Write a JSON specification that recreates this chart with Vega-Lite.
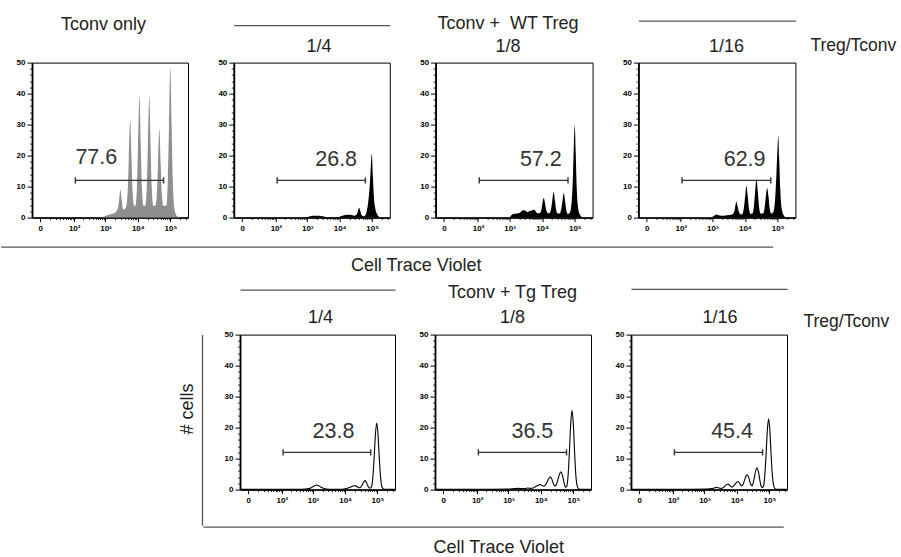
{
"$schema": "https://vega.github.io/schema/vega-lite/v6.json",
"padding": {"left": 0, "top": 13.6, "right": 0, "bottom": 0},
"config": {
 "font": "Liberation Sans",
 "view": {"stroke": "#000", "strokeWidth": 1},
 "axis": {"grid": false, "labelFont": "Liberation Sans", "labelFontWeight": "bold", "labelFontSize": 8, "labelColor": "#000", "tickColor": "#000", "domainColor": "#000", "titleFont": "Liberation Sans", "titleFontWeight": "normal", "titleFontSize": 18, "titleColor": "#222", "labelOverlap": false, "labelFlush": false}
},
"datasets": {
 "gates": [
  {"sample": "Tconv only", "lo": 110, "hi": 62000, "pct": 77.6},
  {"sample": "WT 1/4", "lo": 110, "hi": 62000, "pct": 26.8},
  {"sample": "WT 1/8", "lo": 110, "hi": 62000, "pct": 57.2},
  {"sample": "WT 1/16", "lo": 110, "hi": 62000, "pct": 62.9},
  {"sample": "Tg 1/4", "lo": 110, "hi": 62000, "pct": 23.8},
  {"sample": "Tg 1/8", "lo": 110, "hi": 62000, "pct": 36.5},
  {"sample": "Tg 1/16", "lo": 110, "hi": 62000, "pct": 45.4}
 ],
 "hist": [
  {"sample":"Tconv only","ctv":700,"cells":0},{"sample":"Tconv only","ctv":1000,"cells":0.5},{"sample":"Tconv only","ctv":1500,"cells":1.2},{"sample":"Tconv only","ctv":2000,"cells":1.6},{"sample":"Tconv only","ctv":2175,"cells":2},{"sample":"Tconv only","ctv":2436,"cells":3},{"sample":"Tconv only","ctv":2639,"cells":5.6},{"sample":"Tconv only","ctv":2900,"cells":9},{"sample":"Tconv only","ctv":3190,"cells":5.6},{"sample":"Tconv only","ctv":3451,"cells":3},{"sample":"Tconv only","ctv":3857,"cells":2.6},{"sample":"Tconv only","ctv":4350,"cells":3.5},{"sample":"Tconv only","ctv":4872,"cells":8.5},{"sample":"Tconv only","ctv":5278,"cells":19},{"sample":"Tconv only","ctv":5800,"cells":31.6},{"sample":"Tconv only","ctv":6380,"cells":19},{"sample":"Tconv only","ctv":6902,"cells":8.5},{"sample":"Tconv only","ctv":7714,"cells":3.8},{"sample":"Tconv only","ctv":8400,"cells":3.8},{"sample":"Tconv only","ctv":9408,"cells":10},{"sample":"Tconv only","ctv":10192,"cells":23.5},{"sample":"Tconv only","ctv":11200,"cells":39.2},{"sample":"Tconv only","ctv":12320,"cells":23.5},{"sample":"Tconv only","ctv":13328,"cells":10},{"sample":"Tconv only","ctv":14896,"cells":3.8},{"sample":"Tconv only","ctv":16875,"cells":3.8},{"sample":"Tconv only","ctv":18900,"cells":10},{"sample":"Tconv only","ctv":20475,"cells":23.4},{"sample":"Tconv only","ctv":22500,"cells":39},{"sample":"Tconv only","ctv":24750,"cells":23.4},{"sample":"Tconv only","ctv":26775,"cells":10},{"sample":"Tconv only","ctv":29925,"cells":3.8},{"sample":"Tconv only","ctv":34500,"cells":3.8},{"sample":"Tconv only","ctv":38640,"cells":7.8},{"sample":"Tconv only","ctv":41860,"cells":17.2},{"sample":"Tconv only","ctv":46000,"cells":28.7},{"sample":"Tconv only","ctv":50600,"cells":17.2},{"sample":"Tconv only","ctv":54740,"cells":7.8},{"sample":"Tconv only","ctv":61180,"cells":3.8},{"sample":"Tconv only","ctv":75000,"cells":3.8},{"sample":"Tconv only","ctv":84000,"cells":12.5},{"sample":"Tconv only","ctv":91000,"cells":29},{"sample":"Tconv only","ctv":100000,"cells":48.3},{"sample":"Tconv only","ctv":110000,"cells":29},{"sample":"Tconv only","ctv":119000,"cells":12.5},{"sample":"Tconv only","ctv":133000,"cells":3},{"sample":"Tconv only","ctv":160000,"cells":0.5},{"sample":"Tconv only","ctv":200000,"cells":0},
  {"sample":"WT 1/4","ctv":800,"cells":0},{"sample":"WT 1/4","ctv":1100,"cells":0.3},{"sample":"WT 1/4","ctv":1500,"cells":0.6},{"sample":"WT 1/4","ctv":2000,"cells":0.6},{"sample":"WT 1/4","ctv":2600,"cells":0.5},{"sample":"WT 1/4","ctv":3500,"cells":0.3},{"sample":"WT 1/4","ctv":5000,"cells":0.1},{"sample":"WT 1/4","ctv":7000,"cells":0.1},{"sample":"WT 1/4","ctv":10000,"cells":0.3},{"sample":"WT 1/4","ctv":13000,"cells":0.7},{"sample":"WT 1/4","ctv":17000,"cells":0.9},{"sample":"WT 1/4","ctv":22000,"cells":0.9},{"sample":"WT 1/4","ctv":28000,"cells":0.6},{"sample":"WT 1/4","ctv":32000,"cells":0.8},{"sample":"WT 1/4","ctv":35000,"cells":1.5},{"sample":"WT 1/4","ctv":37500,"cells":2.6},{"sample":"WT 1/4","ctv":40000,"cells":3.2},{"sample":"WT 1/4","ctv":43000,"cells":2.2},{"sample":"WT 1/4","ctv":47000,"cells":0.9},{"sample":"WT 1/4","ctv":53000,"cells":0.4},{"sample":"WT 1/4","ctv":60000,"cells":0.6},{"sample":"WT 1/4","ctv":68000,"cells":2},{"sample":"WT 1/4","ctv":76000,"cells":5},{"sample":"WT 1/4","ctv":84000,"cells":10},{"sample":"WT 1/4","ctv":90000,"cells":15.5},{"sample":"WT 1/4","ctv":98000,"cells":20.7},{"sample":"WT 1/4","ctv":105000,"cells":14},{"sample":"WT 1/4","ctv":113000,"cells":7},{"sample":"WT 1/4","ctv":125000,"cells":3},{"sample":"WT 1/4","ctv":145000,"cells":1},{"sample":"WT 1/4","ctv":175000,"cells":0},
  {"sample":"WT 1/8","ctv":1000,"cells":0},{"sample":"WT 1/8","ctv":1300,"cells":1.2},{"sample":"WT 1/8","ctv":1700,"cells":1.3},{"sample":"WT 1/8","ctv":2100,"cells":1.6},{"sample":"WT 1/8","ctv":2600,"cells":2.4},{"sample":"WT 1/8","ctv":3000,"cells":2.3},{"sample":"WT 1/8","ctv":3500,"cells":1.8},{"sample":"WT 1/8","ctv":4200,"cells":2.1},{"sample":"WT 1/8","ctv":5000,"cells":2.4},{"sample":"WT 1/8","ctv":5800,"cells":2.5},{"sample":"WT 1/8","ctv":6800,"cells":1.6},{"sample":"WT 1/8","ctv":8000,"cells":1.4},{"sample":"WT 1/8","ctv":8800,"cells":1.6},{"sample":"WT 1/8","ctv":9700,"cells":3},{"sample":"WT 1/8","ctv":10300,"cells":4.8},{"sample":"WT 1/8","ctv":11200,"cells":6.3},{"sample":"WT 1/8","ctv":12200,"cells":4.8},{"sample":"WT 1/8","ctv":13300,"cells":2.5},{"sample":"WT 1/8","ctv":15000,"cells":1.4},{"sample":"WT 1/8","ctv":17000,"cells":1.5},{"sample":"WT 1/8","ctv":19000,"cells":3},{"sample":"WT 1/8","ctv":20500,"cells":5.5},{"sample":"WT 1/8","ctv":22500,"cells":8.3},{"sample":"WT 1/8","ctv":24700,"cells":5.5},{"sample":"WT 1/8","ctv":26700,"cells":2.7},{"sample":"WT 1/8","ctv":30000,"cells":1.3},{"sample":"WT 1/8","ctv":34500,"cells":1.3},{"sample":"WT 1/8","ctv":38600,"cells":2.8},{"sample":"WT 1/8","ctv":41900,"cells":5.2},{"sample":"WT 1/8","ctv":46000,"cells":7.9},{"sample":"WT 1/8","ctv":50600,"cells":5.2},{"sample":"WT 1/8","ctv":54700,"cells":2.5},{"sample":"WT 1/8","ctv":60000,"cells":1.2},{"sample":"WT 1/8","ctv":70000,"cells":1.5},{"sample":"WT 1/8","ctv":80000,"cells":5},{"sample":"WT 1/8","ctv":88000,"cells":14},{"sample":"WT 1/8","ctv":94000,"cells":24},{"sample":"WT 1/8","ctv":100000,"cells":29.8},{"sample":"WT 1/8","ctv":106000,"cells":22},{"sample":"WT 1/8","ctv":114000,"cells":10},{"sample":"WT 1/8","ctv":125000,"cells":3.5},{"sample":"WT 1/8","ctv":145000,"cells":0.8},{"sample":"WT 1/8","ctv":175000,"cells":0},
  {"sample":"WT 1/16","ctv":900,"cells":0},{"sample":"WT 1/16","ctv":1150,"cells":0.6},{"sample":"WT 1/16","ctv":1300,"cells":1},{"sample":"WT 1/16","ctv":1500,"cells":0.8},{"sample":"WT 1/16","ctv":1900,"cells":0.6},{"sample":"WT 1/16","ctv":2500,"cells":0.7},{"sample":"WT 1/16","ctv":3200,"cells":0.8},{"sample":"WT 1/16","ctv":3900,"cells":1},{"sample":"WT 1/16","ctv":4300,"cells":1.2},{"sample":"WT 1/16","ctv":4800,"cells":2.2},{"sample":"WT 1/16","ctv":5100,"cells":3.8},{"sample":"WT 1/16","ctv":5500,"cells":5.1},{"sample":"WT 1/16","ctv":6000,"cells":3.6},{"sample":"WT 1/16","ctv":6600,"cells":1.8},{"sample":"WT 1/16","ctv":7500,"cells":1},{"sample":"WT 1/16","ctv":8400,"cells":1.2},{"sample":"WT 1/16","ctv":9400,"cells":3.5},{"sample":"WT 1/16","ctv":10200,"cells":7},{"sample":"WT 1/16","ctv":11100,"cells":10.2},{"sample":"WT 1/16","ctv":12200,"cells":7},{"sample":"WT 1/16","ctv":13200,"cells":3.2},{"sample":"WT 1/16","ctv":15000,"cells":1.2},{"sample":"WT 1/16","ctv":17000,"cells":1.3},{"sample":"WT 1/16","ctv":19000,"cells":4},{"sample":"WT 1/16","ctv":20600,"cells":8.5},{"sample":"WT 1/16","ctv":22600,"cells":12.4},{"sample":"WT 1/16","ctv":24800,"cells":8.5},{"sample":"WT 1/16","ctv":26900,"cells":3.8},{"sample":"WT 1/16","ctv":30000,"cells":1.3},{"sample":"WT 1/16","ctv":36000,"cells":1.3},{"sample":"WT 1/16","ctv":40300,"cells":3.3},{"sample":"WT 1/16","ctv":43700,"cells":6.8},{"sample":"WT 1/16","ctv":48000,"cells":9.5},{"sample":"WT 1/16","ctv":52800,"cells":6.8},{"sample":"WT 1/16","ctv":57100,"cells":3},{"sample":"WT 1/16","ctv":64000,"cells":1.3},{"sample":"WT 1/16","ctv":74000,"cells":1.8},{"sample":"WT 1/16","ctv":84000,"cells":6},{"sample":"WT 1/16","ctv":92000,"cells":14},{"sample":"WT 1/16","ctv":98000,"cells":21},{"sample":"WT 1/16","ctv":105000,"cells":26.4},{"sample":"WT 1/16","ctv":112000,"cells":19},{"sample":"WT 1/16","ctv":121000,"cells":9},{"sample":"WT 1/16","ctv":133000,"cells":3},{"sample":"WT 1/16","ctv":155000,"cells":0.7},{"sample":"WT 1/16","ctv":185000,"cells":0},
  {"sample":"Tg 1/4","ctv":-8,"cells":0.1},{"sample":"Tg 1/4","ctv":50,"cells":0.1},{"sample":"Tg 1/4","ctv":300,"cells":0.1},{"sample":"Tg 1/4","ctv":600,"cells":0.2},{"sample":"Tg 1/4","ctv":800,"cells":0.4},{"sample":"Tg 1/4","ctv":950,"cells":0.8},{"sample":"Tg 1/4","ctv":1100,"cells":1.2},{"sample":"Tg 1/4","ctv":1250,"cells":1.5},{"sample":"Tg 1/4","ctv":1450,"cells":1.3},{"sample":"Tg 1/4","ctv":1700,"cells":0.9},{"sample":"Tg 1/4","ctv":2000,"cells":0.5},{"sample":"Tg 1/4","ctv":2600,"cells":0.2},{"sample":"Tg 1/4","ctv":4000,"cells":0.1},{"sample":"Tg 1/4","ctv":7000,"cells":0.1},{"sample":"Tg 1/4","ctv":10000,"cells":0.3},{"sample":"Tg 1/4","ctv":13000,"cells":0.6},{"sample":"Tg 1/4","ctv":16000,"cells":1.0},{"sample":"Tg 1/4","ctv":18500,"cells":1.25},{"sample":"Tg 1/4","ctv":21000,"cells":1.2},{"sample":"Tg 1/4","ctv":24000,"cells":0.9},{"sample":"Tg 1/4","ctv":27000,"cells":0.6},{"sample":"Tg 1/4","ctv":29000,"cells":0.6},{"sample":"Tg 1/4","ctv":33000,"cells":1.3},{"sample":"Tg 1/4","ctv":37000,"cells":2.3},{"sample":"Tg 1/4","ctv":41000,"cells":2.9},{"sample":"Tg 1/4","ctv":45500,"cells":2.3},{"sample":"Tg 1/4","ctv":50000,"cells":1.3},{"sample":"Tg 1/4","ctv":56000,"cells":0.5},{"sample":"Tg 1/4","ctv":61000,"cells":0.5},{"sample":"Tg 1/4","ctv":66000,"cells":1.0},{"sample":"Tg 1/4","ctv":72000,"cells":3.9},{"sample":"Tg 1/4","ctv":79000,"cells":10.1},{"sample":"Tg 1/4","ctv":86600,"cells":17.8},{"sample":"Tg 1/4","ctv":95000,"cells":21.5},{"sample":"Tg 1/4","ctv":104200,"cells":17.8},{"sample":"Tg 1/4","ctv":114200,"cells":10.1},{"sample":"Tg 1/4","ctv":125300,"cells":3.9},{"sample":"Tg 1/4","ctv":137400,"cells":1.0},{"sample":"Tg 1/4","ctv":150000,"cells":0.3},{"sample":"Tg 1/4","ctv":170000,"cells":0.1},{"sample":"Tg 1/4","ctv":340000,"cells":0.1},
  {"sample":"Tg 1/8","ctv":-8,"cells":0.1},{"sample":"Tg 1/8","ctv":300,"cells":0.1},{"sample":"Tg 1/8","ctv":1000,"cells":0.15},{"sample":"Tg 1/8","ctv":1500,"cells":0.3},{"sample":"Tg 1/8","ctv":2000,"cells":0.4},{"sample":"Tg 1/8","ctv":2600,"cells":0.3},{"sample":"Tg 1/8","ctv":3300,"cells":0.3},{"sample":"Tg 1/8","ctv":4000,"cells":0.5},{"sample":"Tg 1/8","ctv":4800,"cells":0.4},{"sample":"Tg 1/8","ctv":5800,"cells":0.5},{"sample":"Tg 1/8","ctv":7000,"cells":1.0},{"sample":"Tg 1/8","ctv":8300,"cells":1.4},{"sample":"Tg 1/8","ctv":9400,"cells":1.6},{"sample":"Tg 1/8","ctv":10500,"cells":1.4},{"sample":"Tg 1/8","ctv":12000,"cells":1.1},{"sample":"Tg 1/8","ctv":13500,"cells":1.3},{"sample":"Tg 1/8","ctv":15500,"cells":2.4},{"sample":"Tg 1/8","ctv":17500,"cells":3.5},{"sample":"Tg 1/8","ctv":19600,"cells":4.1},{"sample":"Tg 1/8","ctv":22000,"cells":3.3},{"sample":"Tg 1/8","ctv":24500,"cells":1.8},{"sample":"Tg 1/8","ctv":27000,"cells":1.2},{"sample":"Tg 1/8","ctv":30000,"cells":1.6},{"sample":"Tg 1/8","ctv":33500,"cells":3.2},{"sample":"Tg 1/8","ctv":37500,"cells":5},{"sample":"Tg 1/8","ctv":41800,"cells":5.7},{"sample":"Tg 1/8","ctv":46500,"cells":4.5},{"sample":"Tg 1/8","ctv":52000,"cells":2.2},{"sample":"Tg 1/8","ctv":57000,"cells":0.8},{"sample":"Tg 1/8","ctv":63100,"cells":1.2},{"sample":"Tg 1/8","ctv":69100,"cells":4.6},{"sample":"Tg 1/8","ctv":75700,"cells":12},{"sample":"Tg 1/8","ctv":83000,"cells":21.2},{"sample":"Tg 1/8","ctv":91000,"cells":25.6},{"sample":"Tg 1/8","ctv":99800,"cells":21.2},{"sample":"Tg 1/8","ctv":109300,"cells":12},{"sample":"Tg 1/8","ctv":119800,"cells":4.6},{"sample":"Tg 1/8","ctv":131300,"cells":1.2},{"sample":"Tg 1/8","ctv":145000,"cells":0.3},{"sample":"Tg 1/8","ctv":170000,"cells":0.1},{"sample":"Tg 1/8","ctv":340000,"cells":0.1},
  {"sample":"Tg 1/16","ctv":-8,"cells":0.1},{"sample":"Tg 1/16","ctv":400,"cells":0.1},{"sample":"Tg 1/16","ctv":1200,"cells":0.15},{"sample":"Tg 1/16","ctv":1700,"cells":0.3},{"sample":"Tg 1/16","ctv":2100,"cells":0.6},{"sample":"Tg 1/16","ctv":2400,"cells":0.7},{"sample":"Tg 1/16","ctv":2800,"cells":0.5},{"sample":"Tg 1/16","ctv":3400,"cells":0.4},{"sample":"Tg 1/16","ctv":4200,"cells":1.0},{"sample":"Tg 1/16","ctv":4800,"cells":1.6},{"sample":"Tg 1/16","ctv":5400,"cells":1.8},{"sample":"Tg 1/16","ctv":6100,"cells":1.3},{"sample":"Tg 1/16","ctv":7000,"cells":0.8},{"sample":"Tg 1/16","ctv":8200,"cells":1.3},{"sample":"Tg 1/16","ctv":9500,"cells":2.2},{"sample":"Tg 1/16","ctv":10900,"cells":2.6},{"sample":"Tg 1/16","ctv":12300,"cells":2.0},{"sample":"Tg 1/16","ctv":13800,"cells":1.2},{"sample":"Tg 1/16","ctv":15500,"cells":1.6},{"sample":"Tg 1/16","ctv":17500,"cells":3.2},{"sample":"Tg 1/16","ctv":19500,"cells":4.5},{"sample":"Tg 1/16","ctv":21000,"cells":4.8},{"sample":"Tg 1/16","ctv":23500,"cells":3.8},{"sample":"Tg 1/16","ctv":26500,"cells":1.8},{"sample":"Tg 1/16","ctv":29500,"cells":1.2},{"sample":"Tg 1/16","ctv":33000,"cells":2.8},{"sample":"Tg 1/16","ctv":37000,"cells":5.5},{"sample":"Tg 1/16","ctv":41800,"cells":7},{"sample":"Tg 1/16","ctv":46500,"cells":5.6},{"sample":"Tg 1/16","ctv":52000,"cells":2.6},{"sample":"Tg 1/16","ctv":57000,"cells":0.9},{"sample":"Tg 1/16","ctv":61000,"cells":0.7},{"sample":"Tg 1/16","ctv":66000,"cells":1.1},{"sample":"Tg 1/16","ctv":72000,"cells":4.1},{"sample":"Tg 1/16","ctv":79000,"cells":10.7},{"sample":"Tg 1/16","ctv":86600,"cells":18.9},{"sample":"Tg 1/16","ctv":95000,"cells":22.8},{"sample":"Tg 1/16","ctv":104200,"cells":18.9},{"sample":"Tg 1/16","ctv":114200,"cells":10.7},{"sample":"Tg 1/16","ctv":125300,"cells":4.1},{"sample":"Tg 1/16","ctv":137400,"cells":1.1},{"sample":"Tg 1/16","ctv":150000,"cells":0.3},{"sample":"Tg 1/16","ctv":170000,"cells":0.1},{"sample":"Tg 1/16","ctv":340000,"cells":0.1}
 ]
},
"vconcat": [
 {"hconcat": [
  {"width": 156, "height": 155, "resolve": {"axis": {"x": "independent", "y": "independent"}}, "layer": [
   {"data": {"name": "hist"}, "transform": [{"filter": {"field": "sample", "equal": "Tconv only"}}], "mark": {"type": "area", "color": "#8f8f8f", "interpolate": "monotone"},
    "encoding": {"x": {"field": "ctv", "type": "quantitative", "scale": {"type": "symlog", "constant": 10, "domain": [-8, 350000], "nice": false, "zero": false}, "axis": {"orient": "bottom", "title": null, "values": [0,100,1000,10000,100000], "labelExpr": "datum.value == 0 ? '0' : datum.value == 100 ? '10²' : datum.value == 1000 ? '10³' : datum.value == 10000 ? '10⁴' : '10⁵'", "tickSize": 4, "labelPadding": 3, "domainWidth": 1.5}},
     "y": {"field": "cells", "type": "quantitative", "scale": {"domain": [0, 50], "nice": false}, "axis": {"orient": "left", "title": null, "values": [0,10,20,30,40,50], "tickSize": 5, "labelPadding": 2, "domainWidth": 1.8}}}},
   {"data": {"name": "gates"}, "transform": [{"filter": {"field": "sample", "equal": "Tconv only"}}], "mark": {"type": "rule", "color": "#333", "strokeWidth": 1.4},
    "encoding": {"x": {"field": "lo", "type": "quantitative", "axis": {"orient": "bottom", "title": null, "values": [10,20,30,40,50,60,70,80,90,200,300,400,500,600,700,800,900,2000,3000,4000,5000,6000,7000,8000,9000,20000,30000,40000,50000,60000,70000,80000,90000,200000,300000], "labels": false, "domain": false, "tickSize": 2, "tickWidth": 0.8}}, "x2": {"field": "hi"},
     "y": {"datum": 12, "type": "quantitative", "axis": {"orient": "left", "title": null, "values": [2,4,6,8,12,14,16,18,22,24,26,28,32,34,36,38,42,44,46,48], "labels": false, "domain": false, "tickSize": 2.5, "tickWidth": 0.8}}}},
   {"data": {"name": "gates"}, "transform": [{"filter": {"field": "sample", "equal": "Tconv only"}}], "mark": {"type": "rule", "color": "#333", "strokeWidth": 1.4},
    "encoding": {"x": {"field": "lo", "type": "quantitative", "axis": {"orient": "top", "domain": false, "ticks": false, "labels": false, "title": "Tconv only", "titleX": 71, "titleY": -33, "titleAlign": "center", "titleBaseline": "alphabetic", "titleAngle": 0}}, "y": {"datum": 11, "type": "quantitative", "axis": null}, "y2": {"datum": 13}}},
   {"data": {"name": "gates"}, "transform": [{"filter": {"field": "sample", "equal": "Tconv only"}}], "mark": {"type": "rule", "color": "#333", "strokeWidth": 1.4},
    "encoding": {"x": {"field": "hi", "type": "quantitative", "axis": null}, "y": {"datum": 11, "type": "quantitative", "axis": null}, "y2": {"datum": 13}}},
   {"data": {"name": "gates"}, "transform": [{"filter": {"field": "sample", "equal": "Tconv only"}}], "mark": {"type": "text", "align": "left", "baseline": "alphabetic", "dx": 0, "dy": -16, "fontSize": 21.5, "color": "#333"},
    "encoding": {"x": {"field": "lo", "type": "quantitative", "axis": null}, "y": {"datum": 12, "type": "quantitative", "axis": null}, "text": {"field": "pct", "type": "quantitative", "format": ".1f"}}}
  ]},
  {"width": 156, "height": 155, "resolve": {"axis": {"x": "independent", "y": "independent"}}, "layer": [
   {"data": {"name": "hist"}, "transform": [{"filter": {"field": "sample", "equal": "WT 1/4"}}], "mark": {"type": "area", "color": "#000", "interpolate": "monotone"},
    "encoding": {"x": {"field": "ctv", "type": "quantitative", "scale": {"type": "symlog", "constant": 10, "domain": [-8, 350000], "nice": false, "zero": false}, "axis": {"orient": "bottom", "title": null, "values": [0,100,1000,10000,100000], "labelExpr": "datum.value == 0 ? '0' : datum.value == 100 ? '10²' : datum.value == 1000 ? '10³' : datum.value == 10000 ? '10⁴' : '10⁵'", "tickSize": 4, "labelPadding": 3, "domainWidth": 1.5}},
     "y": {"field": "cells", "type": "quantitative", "scale": {"domain": [0, 50], "nice": false}, "axis": {"orient": "left", "title": null, "values": [0,10,20,30,40,50], "tickSize": 5, "labelPadding": 2, "domainWidth": 1.8}}}},
   {"data": {"name": "gates"}, "transform": [{"filter": {"field": "sample", "equal": "WT 1/4"}}], "mark": {"type": "rule", "color": "#333", "strokeWidth": 1.4},
    "encoding": {"x": {"field": "lo", "type": "quantitative", "axis": {"orient": "bottom", "title": null, "values": [10,20,30,40,50,60,70,80,90,200,300,400,500,600,700,800,900,2000,3000,4000,5000,6000,7000,8000,9000,20000,30000,40000,50000,60000,70000,80000,90000,200000,300000], "labels": false, "domain": false, "tickSize": 2, "tickWidth": 0.8}}, "x2": {"field": "hi"},
     "y": {"datum": 12, "type": "quantitative", "axis": {"orient": "left", "title": null, "values": [2,4,6,8,12,14,16,18,22,24,26,28,32,34,36,38,42,44,46,48], "labels": false, "domain": false, "tickSize": 2.5, "tickWidth": 0.8}}}},
   {"data": {"name": "gates"}, "transform": [{"filter": {"field": "sample", "equal": "WT 1/4"}}], "mark": {"type": "rule", "color": "#333", "strokeWidth": 1.4},
    "encoding": {"x": {"field": "lo", "type": "quantitative", "axis": {"orient": "top", "offset": 37.5, "domain": true, "domainColor": "#555", "domainWidth": 1.3, "ticks": false, "labels": false, "title": "1/4", "titleX": 84.7, "titleY": 26.5, "titleAlign": "center", "titleBaseline": "alphabetic", "titleAngle": 0}}, "y": {"datum": 11, "type": "quantitative", "axis": null}, "y2": {"datum": 13}}},
   {"data": {"name": "gates"}, "transform": [{"filter": {"field": "sample", "equal": "WT 1/4"}}], "mark": {"type": "rule", "color": "#333", "strokeWidth": 1.4},
    "encoding": {"x": {"field": "hi", "type": "quantitative", "axis": null}, "y": {"datum": 11, "type": "quantitative", "axis": null}, "y2": {"datum": 13}}},
   {"data": {"name": "gates"}, "transform": [{"filter": {"field": "sample", "equal": "WT 1/4"}}], "mark": {"type": "text", "align": "right", "baseline": "alphabetic", "dx": -8.3, "dy": -14, "fontSize": 21.5, "color": "#333"},
    "encoding": {"x": {"field": "hi", "type": "quantitative", "axis": null}, "y": {"datum": 12, "type": "quantitative", "axis": null}, "text": {"field": "pct", "type": "quantitative", "format": ".1f"}}}
  ]},
  {"width": 157, "height": 155, "resolve": {"axis": {"x": "independent", "y": "independent"}}, "layer": [
   {"data": {"name": "hist"}, "transform": [{"filter": {"field": "sample", "equal": "WT 1/8"}}], "mark": {"type": "area", "color": "#000", "interpolate": "monotone"},
    "encoding": {"x": {"field": "ctv", "type": "quantitative", "scale": {"type": "symlog", "constant": 10, "domain": [-8, 350000], "nice": false, "zero": false}, "axis": {"orient": "bottom", "title": null, "values": [0,100,1000,10000,100000], "labelExpr": "datum.value == 0 ? '0' : datum.value == 100 ? '10²' : datum.value == 1000 ? '10³' : datum.value == 10000 ? '10⁴' : '10⁵'", "tickSize": 4, "labelPadding": 3, "domainWidth": 1.5}},
     "y": {"field": "cells", "type": "quantitative", "scale": {"domain": [0, 50], "nice": false}, "axis": {"orient": "left", "title": null, "values": [0,10,20,30,40,50], "tickSize": 5, "labelPadding": 2, "domainWidth": 1.8}}}},
   {"data": {"name": "gates"}, "transform": [{"filter": {"field": "sample", "equal": "WT 1/8"}}], "mark": {"type": "rule", "color": "#333", "strokeWidth": 1.4},
    "encoding": {"x": {"field": "lo", "type": "quantitative", "axis": {"orient": "bottom", "title": null, "values": [10,20,30,40,50,60,70,80,90,200,300,400,500,600,700,800,900,2000,3000,4000,5000,6000,7000,8000,9000,20000,30000,40000,50000,60000,70000,80000,90000,200000,300000], "labels": false, "domain": false, "tickSize": 2, "tickWidth": 0.8}}, "x2": {"field": "hi"},
     "y": {"datum": 12, "type": "quantitative", "axis": {"orient": "left", "title": null, "values": [2,4,6,8,12,14,16,18,22,24,26,28,32,34,36,38,42,44,46,48], "labels": false, "domain": false, "tickSize": 2.5, "tickWidth": 0.8}}}},
   {"data": {"name": "gates"}, "transform": [{"filter": {"field": "sample", "equal": "WT 1/8"}}], "mark": {"type": "rule", "color": "#333", "strokeWidth": 1.4},
    "encoding": {"x": {"field": "lo", "type": "quantitative", "axis": {"orient": "top", "domain": false, "ticks": false, "labels": false, "title": ["Tconv + \u00a0WT Treg", "1/8"], "titleLineHeight": 23, "titleX": 71.9, "titleY": -34, "titleAlign": "center", "titleBaseline": "alphabetic", "titleAngle": 0}}, "y": {"datum": 11, "type": "quantitative", "axis": null}, "y2": {"datum": 13}}},
   {"data": {"name": "gates"}, "transform": [{"filter": {"field": "sample", "equal": "WT 1/8"}}], "mark": {"type": "rule", "color": "#333", "strokeWidth": 1.4},
    "encoding": {"x": {"field": "hi", "type": "quantitative", "axis": null}, "y": {"datum": 11, "type": "quantitative", "axis": null}, "y2": {"datum": 13}}},
   {"data": {"name": "gates"}, "transform": [{"filter": {"field": "sample", "equal": "WT 1/8"}}], "mark": {"type": "text", "align": "right", "baseline": "alphabetic", "dx": -6.3, "dy": -14, "fontSize": 21.5, "color": "#333"},
    "encoding": {"x": {"field": "hi", "type": "quantitative", "axis": null}, "y": {"datum": 12, "type": "quantitative", "axis": null}, "text": {"field": "pct", "type": "quantitative", "format": ".1f"}}}
  ]},
  {"width": 157, "height": 155, "resolve": {"axis": {"x": "independent", "y": "independent"}}, "layer": [
   {"data": {"name": "hist"}, "transform": [{"filter": {"field": "sample", "equal": "WT 1/16"}}], "mark": {"type": "area", "color": "#000", "interpolate": "monotone"},
    "encoding": {"x": {"field": "ctv", "type": "quantitative", "scale": {"type": "symlog", "constant": 10, "domain": [-8, 350000], "nice": false, "zero": false}, "axis": {"orient": "bottom", "title": null, "values": [0,100,1000,10000,100000], "labelExpr": "datum.value == 0 ? '0' : datum.value == 100 ? '10²' : datum.value == 1000 ? '10³' : datum.value == 10000 ? '10⁴' : '10⁵'", "tickSize": 4, "labelPadding": 3, "domainWidth": 1.5}},
     "y": {"field": "cells", "type": "quantitative", "scale": {"domain": [0, 50], "nice": false}, "axis": {"orient": "left", "title": null, "values": [0,10,20,30,40,50], "tickSize": 5, "labelPadding": 2, "domainWidth": 1.8}}}},
   {"data": {"name": "gates"}, "transform": [{"filter": {"field": "sample", "equal": "WT 1/16"}}], "mark": {"type": "rule", "color": "#333", "strokeWidth": 1.4},
    "encoding": {"x": {"field": "lo", "type": "quantitative", "axis": {"orient": "bottom", "title": null, "values": [10,20,30,40,50,60,70,80,90,200,300,400,500,600,700,800,900,2000,3000,4000,5000,6000,7000,8000,9000,20000,30000,40000,50000,60000,70000,80000,90000,200000,300000], "labels": false, "domain": false, "tickSize": 2, "tickWidth": 0.8}}, "x2": {"field": "hi"},
     "y": {"datum": 12, "type": "quantitative", "axis": {"orient": "left", "title": null, "values": [2,4,6,8,12,14,16,18,22,24,26,28,32,34,36,38,42,44,46,48], "labels": false, "domain": false, "tickSize": 2.5, "tickWidth": 0.8}}}},
   {"data": {"name": "gates"}, "transform": [{"filter": {"field": "sample", "equal": "WT 1/16"}}], "mark": {"type": "rule", "color": "#333", "strokeWidth": 1.4},
    "encoding": {"x": {"field": "lo", "type": "quantitative", "axis": {"orient": "top", "offset": 42, "domain": true, "domainColor": "#555", "domainWidth": 1.3, "ticks": false, "labels": false, "title": "1/16", "titleX": 87.6, "titleY": 31, "titleAlign": "center", "titleBaseline": "alphabetic", "titleAngle": 0}}, "y": {"datum": 11, "type": "quantitative", "axis": null}, "y2": {"datum": 13}}},
   {"data": {"name": "gates"}, "transform": [{"filter": {"field": "sample", "equal": "WT 1/16"}}], "mark": {"type": "rule", "color": "#333", "strokeWidth": 1.4},
    "encoding": {"x": {"field": "hi", "type": "quantitative", "axis": null}, "y": {"datum": 11, "type": "quantitative", "axis": {"orient": "right", "domain": false, "ticks": false, "labels": false, "minExtent": 0, "title": "Treg/Tconv", "titleFontSize": 17.5, "titleAngle": 0, "titleAlign": "left", "titleBaseline": "alphabetic", "titleX": 14.5, "titleY": -12}}, "y2": {"datum": 13}}},
   {"data": {"name": "gates"}, "transform": [{"filter": {"field": "sample", "equal": "WT 1/16"}}], "mark": {"type": "text", "align": "right", "baseline": "alphabetic", "dx": -5.3, "dy": -14, "fontSize": 21.5, "color": "#333"},
    "encoding": {"x": {"field": "hi", "type": "quantitative", "axis": null}, "y": {"datum": 12, "type": "quantitative", "axis": null}, "text": {"field": "pct", "type": "quantitative", "format": ".1f"}}}
  ]}
 ], "spacing": 27.8},
 {"width": 772, "height": 5, "view": {"stroke": null}, "data": {"values": []}, "mark": "point",
  "encoding": {"x": {"field": "v", "type": "quantitative", "scale": {"domain": [0, 1]}, "axis": {"orient": "bottom", "position": -31.3, "domain": true, "domainColor": "#555", "domainWidth": 1.3, "ticks": false, "labels": false, "title": "Cell Trace Violet", "titleX": 415, "titleY": 23.5, "titleAlign": "center", "titleBaseline": "alphabetic"}}}},
 {"vconcat": [
  {"hconcat": [
   {"width": 125.4, "height": 1, "view": {"stroke": null}, "data": {"values": []}, "mark": "point"},
   {"width": 1, "height": 190.7, "view": {"stroke": null}, "data": {"values": []}, "mark": "point",
    "encoding": {"y": {"field": "v", "type": "quantitative", "scale": {"domain": [0, 1]}, "axis": {"orient": "left", "domain": true, "domainColor": "#555", "domainWidth": 1.3, "ticks": false, "labels": false, "minExtent": 0, "title": "# cells", "titlePadding": 6, "titleY": 74, "titleAlign": "center"}}}},
   {"width": 155, "height": 155, "resolve": {"axis": {"x": "independent", "y": "independent"}}, "layer": [
    {"data": {"name": "hist"}, "transform": [{"filter": {"field": "sample", "equal": "Tg 1/4"}}], "mark": {"type": "line", "color": "#000", "strokeWidth": 1.1, "interpolate": "monotone"},
     "encoding": {"x": {"field": "ctv", "type": "quantitative", "scale": {"type": "symlog", "constant": 10, "domain": [-8, 350000], "nice": false, "zero": false}, "axis": {"orient": "bottom", "title": null, "values": [0,100,1000,10000,100000], "labelExpr": "datum.value == 0 ? '0' : datum.value == 100 ? '10²' : datum.value == 1000 ? '10³' : datum.value == 10000 ? '10⁴' : '10⁵'", "tickSize": 4, "labelPadding": 3, "domainWidth": 1.5}},
      "y": {"field": "cells", "type": "quantitative", "scale": {"domain": [0, 50], "nice": false}, "axis": {"orient": "left", "title": null, "values": [0,10,20,30,40,50], "tickSize": 5, "labelPadding": 2, "domainWidth": 1.8}}}},
    {"data": {"name": "gates"}, "transform": [{"filter": {"field": "sample", "equal": "Tg 1/4"}}], "mark": {"type": "rule", "color": "#333", "strokeWidth": 1.4},
     "encoding": {"x": {"field": "lo", "type": "quantitative", "axis": {"orient": "bottom", "title": null, "values": [10,20,30,40,50,60,70,80,90,200,300,400,500,600,700,800,900,2000,3000,4000,5000,6000,7000,8000,9000,20000,30000,40000,50000,60000,70000,80000,90000,200000,300000], "labels": false, "domain": false, "tickSize": 2, "tickWidth": 0.8}}, "x2": {"field": "hi"},
      "y": {"datum": 12, "type": "quantitative", "axis": {"orient": "left", "title": null, "values": [2,4,6,8,12,14,16,18,22,24,26,28,32,34,36,38,42,44,46,48], "labels": false, "domain": false, "tickSize": 2.5, "tickWidth": 0.8}}}},
    {"data": {"name": "gates"}, "transform": [{"filter": {"field": "sample", "equal": "Tg 1/4"}}], "mark": {"type": "rule", "color": "#333", "strokeWidth": 1.4},
     "encoding": {"x": {"field": "lo", "type": "quantitative", "axis": {"orient": "top", "offset": 45, "domain": true, "domainColor": "#555", "domainWidth": 1.3, "ticks": false, "labels": false, "title": "1/4", "titleX": 80, "titleY": 33.3, "titleAlign": "center", "titleBaseline": "alphabetic", "titleAngle": 0}}, "y": {"datum": 11, "type": "quantitative", "axis": null}, "y2": {"datum": 13}}},
    {"data": {"name": "gates"}, "transform": [{"filter": {"field": "sample", "equal": "Tg 1/4"}}], "mark": {"type": "rule", "color": "#333", "strokeWidth": 1.4},
     "encoding": {"x": {"field": "hi", "type": "quantitative", "axis": null}, "y": {"datum": 11, "type": "quantitative", "axis": null}, "y2": {"datum": 13}}},
    {"data": {"name": "gates"}, "transform": [{"filter": {"field": "sample", "equal": "Tg 1/4"}}], "mark": {"type": "text", "align": "right", "baseline": "alphabetic", "dx": -16.3, "dy": -14, "fontSize": 21.5, "color": "#333"},
     "encoding": {"x": {"field": "hi", "type": "quantitative", "axis": null}, "y": {"datum": 12, "type": "quantitative", "axis": null}, "text": {"field": "pct", "type": "quantitative", "format": ".1f"}}}
   ]},
   {"width": 156, "height": 155, "resolve": {"axis": {"x": "independent", "y": "independent"}}, "layer": [
    {"data": {"name": "hist"}, "transform": [{"filter": {"field": "sample", "equal": "Tg 1/8"}}], "mark": {"type": "line", "color": "#000", "strokeWidth": 1.1, "interpolate": "monotone"},
     "encoding": {"x": {"field": "ctv", "type": "quantitative", "scale": {"type": "symlog", "constant": 10, "domain": [-8, 350000], "nice": false, "zero": false}, "axis": {"orient": "bottom", "title": null, "values": [0,100,1000,10000,100000], "labelExpr": "datum.value == 0 ? '0' : datum.value == 100 ? '10²' : datum.value == 1000 ? '10³' : datum.value == 10000 ? '10⁴' : '10⁵'", "tickSize": 4, "labelPadding": 3, "domainWidth": 1.5}},
      "y": {"field": "cells", "type": "quantitative", "scale": {"domain": [0, 50], "nice": false}, "axis": {"orient": "left", "title": null, "values": [0,10,20,30,40,50], "tickSize": 5, "labelPadding": 2, "domainWidth": 1.8}}}},
    {"data": {"name": "gates"}, "transform": [{"filter": {"field": "sample", "equal": "Tg 1/8"}}], "mark": {"type": "rule", "color": "#333", "strokeWidth": 1.4},
     "encoding": {"x": {"field": "lo", "type": "quantitative", "axis": {"orient": "bottom", "title": null, "values": [10,20,30,40,50,60,70,80,90,200,300,400,500,600,700,800,900,2000,3000,4000,5000,6000,7000,8000,9000,20000,30000,40000,50000,60000,70000,80000,90000,200000,300000], "labels": false, "domain": false, "tickSize": 2, "tickWidth": 0.8}}, "x2": {"field": "hi"},
      "y": {"datum": 12, "type": "quantitative", "axis": {"orient": "left", "title": null, "values": [2,4,6,8,12,14,16,18,22,24,26,28,32,34,36,38,42,44,46,48], "labels": false, "domain": false, "tickSize": 2.5, "tickWidth": 0.8}}}},
    {"data": {"name": "gates"}, "transform": [{"filter": {"field": "sample", "equal": "Tg 1/8"}}], "mark": {"type": "rule", "color": "#333", "strokeWidth": 1.4},
     "encoding": {"x": {"field": "lo", "type": "quantitative", "axis": {"orient": "top", "domain": false, "ticks": false, "labels": false, "title": ["Tconv + Tg Treg", "1/8"], "titleLineHeight": 25, "titleX": 77, "titleY": -36.7, "titleAlign": "center", "titleBaseline": "alphabetic", "titleAngle": 0}}, "y": {"datum": 11, "type": "quantitative", "axis": null}, "y2": {"datum": 13}}},
    {"data": {"name": "gates"}, "transform": [{"filter": {"field": "sample", "equal": "Tg 1/8"}}], "mark": {"type": "rule", "color": "#333", "strokeWidth": 1.4},
     "encoding": {"x": {"field": "hi", "type": "quantitative", "axis": null}, "y": {"datum": 11, "type": "quantitative", "axis": null}, "y2": {"datum": 13}}},
    {"data": {"name": "gates"}, "transform": [{"filter": {"field": "sample", "equal": "Tg 1/8"}}], "mark": {"type": "text", "align": "right", "baseline": "alphabetic", "dx": -13.3, "dy": -14, "fontSize": 21.5, "color": "#333"},
     "encoding": {"x": {"field": "hi", "type": "quantitative", "axis": null}, "y": {"datum": 12, "type": "quantitative", "axis": null}, "text": {"field": "pct", "type": "quantitative", "format": ".1f"}}}
   ]},
   {"width": 156, "height": 155, "resolve": {"axis": {"x": "independent", "y": "independent"}}, "layer": [
    {"data": {"name": "hist"}, "transform": [{"filter": {"field": "sample", "equal": "Tg 1/16"}}], "mark": {"type": "line", "color": "#000", "strokeWidth": 1.1, "interpolate": "monotone"},
     "encoding": {"x": {"field": "ctv", "type": "quantitative", "scale": {"type": "symlog", "constant": 10, "domain": [-8, 350000], "nice": false, "zero": false}, "axis": {"orient": "bottom", "title": null, "values": [0,100,1000,10000,100000], "labelExpr": "datum.value == 0 ? '0' : datum.value == 100 ? '10²' : datum.value == 1000 ? '10³' : datum.value == 10000 ? '10⁴' : '10⁵'", "tickSize": 4, "labelPadding": 3, "domainWidth": 1.5}},
      "y": {"field": "cells", "type": "quantitative", "scale": {"domain": [0, 50], "nice": false}, "axis": {"orient": "left", "title": null, "values": [0,10,20,30,40,50], "tickSize": 5, "labelPadding": 2, "domainWidth": 1.8}}}},
    {"data": {"name": "gates"}, "transform": [{"filter": {"field": "sample", "equal": "Tg 1/16"}}], "mark": {"type": "rule", "color": "#333", "strokeWidth": 1.4},
     "encoding": {"x": {"field": "lo", "type": "quantitative", "axis": {"orient": "bottom", "title": null, "values": [10,20,30,40,50,60,70,80,90,200,300,400,500,600,700,800,900,2000,3000,4000,5000,6000,7000,8000,9000,20000,30000,40000,50000,60000,70000,80000,90000,200000,300000], "labels": false, "domain": false, "tickSize": 2, "tickWidth": 0.8}}, "x2": {"field": "hi"},
      "y": {"datum": 12, "type": "quantitative", "axis": {"orient": "left", "title": null, "values": [2,4,6,8,12,14,16,18,22,24,26,28,32,34,36,38,42,44,46,48], "labels": false, "domain": false, "tickSize": 2.5, "tickWidth": 0.8}}}},
    {"data": {"name": "gates"}, "transform": [{"filter": {"field": "sample", "equal": "Tg 1/16"}}], "mark": {"type": "rule", "color": "#333", "strokeWidth": 1.4},
     "encoding": {"x": {"field": "lo", "type": "quantitative", "axis": {"orient": "top", "offset": 45.7, "domain": true, "domainColor": "#555", "domainWidth": 1.3, "ticks": false, "labels": false, "title": "1/16", "titleX": 88.5, "titleY": 34, "titleAlign": "center", "titleBaseline": "alphabetic", "titleAngle": 0}}, "y": {"datum": 11, "type": "quantitative", "axis": null}, "y2": {"datum": 13}}},
    {"data": {"name": "gates"}, "transform": [{"filter": {"field": "sample", "equal": "Tg 1/16"}}], "mark": {"type": "rule", "color": "#333", "strokeWidth": 1.4},
     "encoding": {"x": {"field": "hi", "type": "quantitative", "axis": null}, "y": {"datum": 11, "type": "quantitative", "axis": {"orient": "right", "domain": false, "ticks": false, "labels": false, "minExtent": 0, "title": "Treg/Tconv", "titleFontSize": 17.5, "titleAngle": 0, "titleAlign": "left", "titleBaseline": "alphabetic", "titleX": 16, "titleY": -8}}, "y2": {"datum": 13}}},
    {"data": {"name": "gates"}, "transform": [{"filter": {"field": "sample", "equal": "Tg 1/16"}}], "mark": {"type": "text", "align": "right", "baseline": "alphabetic", "dx": -9.6, "dy": -14, "fontSize": 21.5, "color": "#333"},
     "encoding": {"x": {"field": "hi", "type": "quantitative", "axis": null}, "y": {"datum": 12, "type": "quantitative", "axis": null}, "text": {"field": "pct", "type": "quantitative", "format": ".1f"}}}
   ]}
  ], "spacing": 20},
  {"hconcat": [
   {"width": 170.5, "height": 1, "view": {"stroke": null}, "data": {"values": []}, "mark": "point"},
   {"width": 580.3, "height": 1, "view": {"stroke": null}, "data": {"values": []}, "mark": "point",
    "encoding": {"x": {"field": "v", "type": "quantitative", "scale": {"domain": [0, 1]}, "axis": {"orient": "bottom", "domain": true, "domainColor": "#555", "domainWidth": 1.3, "ticks": false, "labels": false, "title": "Cell Trace Violet", "titleX": 295.3, "titleY": 26, "titleAlign": "center", "titleBaseline": "alphabetic"}}}}
  ], "spacing": 0}
 ], "spacing": 0}
], "spacing": 8
}
